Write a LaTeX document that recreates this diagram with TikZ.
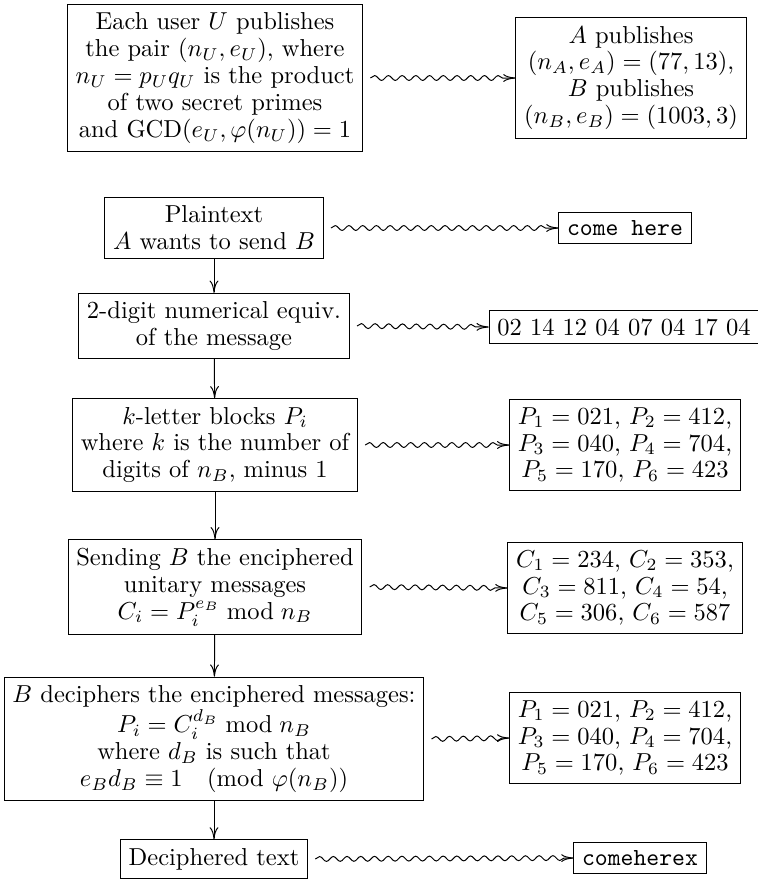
\documentclass[tikz,border=0pt]{standalone}
\usepackage{tikz}
\usetikzlibrary{arrows.meta, decorations.pathmorphing}
\tikzset{
  box/.style    = {rectangle, draw, align=center,
                   font=\fontsize{10pt}{11pt}\selectfont},
  flow/.style   = {-{Computer Modern Rightarrow[length=5pt,width=3.6pt]}},
  squig/.style  = {-{Computer Modern Rightarrow[length=5pt,width=3.2pt]},
                   decorate, decoration={snake, amplitude=1pt,
                   segment length=5.6pt, post length=3pt}},
}

\begin{document}
\begin{tikzpicture}[x=0.408pt, y=-0.408pt]
  \useasboundingbox (0,0) rectangle (758,879);

  % left column: the steps
  \node[box] (user) at (215,78) {Each user $U$ publishes\\the pair $(n_U,e_U)$, where\\
    $n_U=p_Uq_U$ is the product\\of two secret primes\\and $\mathrm{GCD}(e_U,\varphi(n_U))=1$};
  \node[box] (plain) at (214,228) {Plaintext\\$A$ wants to send $B$};
  \node[box] (digits) at (214,326) {2-digit numerical equiv.\\of the message};
  \node[box] (blocks) at (215,445) {$k$-letter blocks $P_i$\\where $k$ is the number of\\
    digits of $n_B$, minus 1};
  \node[box] (send) at (215,587) {Sending $B$ the enciphered\\unitary messages\\
    $C_i=P_i^{e_B}\bmod n_B$};
  \node[box] (decode) at (214,739) {$B$ deciphers the enciphered messages:\\
    $P_i=C_i^{d_B}\bmod n_B$\\where $d_B$ is such that\\$e_Bd_B\equiv 1\pmod{\varphi(n_B)}$};
  \node[box] (result) at (214,859) {Deciphered text};

  % right column: the example values
  \node[box] (keys) at (631,78) {$A$ publishes\\$(n_A,e_A)=(77,13)$,\\
    $B$ publishes\\$(n_B,e_B)=(1003,3)$};
  \node[box] (msg) at (625,228) {\texttt{come here}};
  \node[box] (nums) at (624,327) {02 14 12 04 07 04 17 04};
  \node[box] (pvals) at (625,445) {$P_1=021$, $P_2=412$,\\$P_3=040$, $P_4=704$,\\
    $P_5=170$, $P_6=423$};
  \node[box] (cvals) at (625,588) {$C_1=234$, $C_2=353$,\\$C_3=811$, $C_4=54$,\\
    $C_5=306$, $C_6=587$};
  \node[box] (pback) at (625,738) {$P_1=021$, $P_2=412$,\\$P_3=040$, $P_4=704$,\\
    $P_5=170$, $P_6=423$};
  \node[box] (clear) at (640,858) {\texttt{comeherex}};

  \draw[flow] (plain) -- (digits);
  \draw[flow] (digits) -- (blocks);
  \draw[flow] (blocks) -- (send);
  \draw[flow] (send) -- (decode);
  \draw[flow] (decode) -- (result);

  \draw[squig] ([xshift=3pt]user.east) -- (keys.west);
  \draw[squig] ([xshift=3pt]plain.east) -- (msg.west);
  \draw[squig] ([xshift=3pt]digits.east) -- (nums.west);
  \draw[squig] ([xshift=3pt]blocks.east) -- (pvals.west);
  \draw[squig] ([xshift=3pt]send.east) -- (cvals.west);
  \draw[squig] ([xshift=3pt]decode.east) -- (pback.west);
  \draw[squig] ([xshift=3pt]result.east) -- (clear.west);
\end{tikzpicture}
\end{document}
